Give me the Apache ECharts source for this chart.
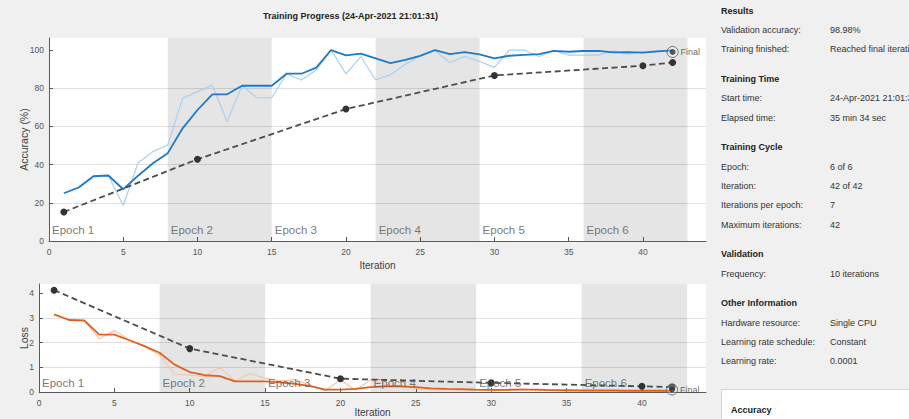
<!DOCTYPE html>
<html>
<head>
<meta charset="utf-8">
<script src="https://cdn.jsdelivr.net/npm/echarts@6/dist/echarts.min.js"></script>
<style>
html,body{margin:0;padding:0;background:#f0f0f0;}
#chart{width:909px;height:419px;}
</style>
</head>
<body>
<div id="chart"></div>
<script>
// iterations 1..42
let iterations=[1,2,3,4,5,6,7,8,9,10,11,12,13,14,15,16,17,18,19,20,21,22,23,24,25,26,27,28,29,30,31,32,33,34,35,36,37,38,39,40,41,42];
let accRaw=[25.0,28.1,34.0,34.3,18.6,41.0,46.8,50.3,74.7,78.2,81.6,62.5,81.3,75.0,75.0,87.5,84.3,89.5,100,87.5,96.6,84.3,87.1,92.6,96.9,99.6,93.5,96.6,94.0,90.9,100,100,96.6,99.6,97.3,97.3,97.3,99.6,97.9,99.0,99.6,99.8];
let accSmooth=[25.0,28.0,33.9,34.3,27.1,34.2,40.7,46.0,59.0,68.6,76.8,76.8,81.3,81.3,81.3,87.6,87.6,90.8,100,97.2,98.1,95.6,93.2,94.8,96.9,100,97.9,98.9,97.7,95.6,97.0,97.5,97.9,99.6,99.1,99.5,99.6,98.8,98.9,98.6,99.3,99.8];
let lossRaw=[3.15,2.91,2.90,2.15,2.50,2.10,1.85,1.50,0.72,0.68,0.62,1.00,0.45,0.75,0.55,0.45,0.50,0.28,0.05,0.50,0.07,0.50,0.30,0.22,0.15,0.10,0.10,0.08,0.06,0.05,0.08,0.12,0.08,0.05,0.04,0.04,0.05,0.04,0.03,0.04,0.03,0.03];
let lossSmooth=[3.15,2.92,2.90,2.33,2.33,2.10,1.86,1.59,1.11,0.81,0.68,0.64,0.43,0.43,0.43,0.39,0.33,0.24,0.10,0.10,0.13,0.20,0.23,0.23,0.20,0.15,0.13,0.12,0.10,0.09,0.09,0.10,0.10,0.08,0.07,0.06,0.06,0.06,0.05,0.05,0.05,0.05];
// validation
let valIter=[1,10,20,30,40,42];
let valAcc=[15.2,42.8,69.1,86.7,91.8,93.5];
let valLoss=[4.13,1.76,0.54,0.37,0.23,0.20];
let finalIter=42;
let finalAcc=98.98;
let finalLoss=0.10;
// epochs
let epochNames=["Epoch 1","Epoch 2","Epoch 3","Epoch 4","Epoch 5","Epoch 6"];
let epochStarts=[0,8,15,22,29,36];
let shadedEpochs=[[8,15],[22,29],[36,43]];
// ticks
let iterTicks=[0,5,10,15,20,25,30,35,40];
let accTicks=[0,20,40,60,80,100];
let lossTicks=[0,1,2,3,4];

let title="Training Progress (24-Apr-2021 21:01:31)";
let panel=[
	{head:"Results",rows:[["Validation accuracy:","98.98%"],["Training finished:","Reached final iteration"]]},
	{head:"Training Time",rows:[["Start time:","24-Apr-2021 21:01:31"],["Elapsed time:","35 min 34 sec"]]},
	{head:"Training Cycle",rows:[["Epoch:","6 of 6"],["Iteration:","42 of 42"],["Iterations per epoch:","7"],["Maximum iterations:","42"]]},
	{head:"Validation",rows:[["Frequency:","10 iterations"]]},
	{head:"Other Information",rows:[["Hardware resource:","Single CPU"],["Learning rate schedule:","Constant"],["Learning rate:","0.0001"]]}
];

let FONT="Liberation Sans, Arial, sans-serif";
let chart=echarts.init(document.getElementById("chart"),null,{renderer:"svg"});

function pairs(xs,ys){
	return xs.map(function(x,i){return [x,ys[i]];});
}

function xAxisOf(gi,gap){
	return {
		type:"value",gridIndex:gi,min:0,max:44.25,interval:5,
		name:"Iteration",nameLocation:"middle",nameGap:gap,
		nameTextStyle:{fontFamily:FONT,fontSize:10,color:"#404040"},
		axisLine:{onZero:false,lineStyle:{color:"#5a5a5a",width:1}},
		axisTick:{inside:true,length:4,customValues:iterTicks,lineStyle:{color:"#5a5a5a"}},
		axisLabel:{customValues:iterTicks,fontFamily:FONT,fontSize:8.5,color:"#555",margin:6},
		splitLine:{show:false}
	};
}
function yAxisOf(gi,name,max,step,ticks,gap){
	return {
		type:"value",gridIndex:gi,min:0,max:max,interval:step,
		name:name,nameLocation:"middle",nameGap:gap,nameMoveOverlap:false,
		nameTextStyle:{fontFamily:FONT,fontSize:10.5,color:"#404040"},
		axisLine:{show:true,lineStyle:{color:"#5a5a5a",width:1}},
		axisTick:{show:true,inside:true,length:4,customValues:ticks,lineStyle:{color:"#5a5a5a"}},
		axisLabel:{customValues:ticks,fontFamily:FONT,fontSize:8.5,color:"#555",margin:5},
		splitLine:{show:true,showMaxLine:false,lineStyle:{color:"#e0e0e0",width:1}}
	};
}

function bandSeries(gi){
	return {
		type:"line",xAxisIndex:gi,yAxisIndex:gi,data:[],silent:true,z:1,
		markArea:{silent:true,itemStyle:{color:"rgba(0,0,0,0.1)"},
			data:shadedEpochs.map(function(b){return [{xAxis:b[0]},{xAxis:b[1]}];})}
	};
}
function lineSeries(gi,ys,color,width){
	return {
		type:"line",xAxisIndex:gi,yAxisIndex:gi,data:pairs(iterations,ys),
		symbol:"none",silent:true,z:3,
		lineStyle:{color:color,width:width}
	};
}
function valSeries(gi,ys){
	return {
		type:"line",xAxisIndex:gi,yAxisIndex:gi,data:pairs(valIter,ys),
		symbol:"circle",symbolSize:7,silent:true,z:4,
		itemStyle:{color:"#333"},
		lineStyle:{color:"#4d4d4d",width:1.8,type:[6,3.5]}
	};
}
function finalSeries(gi,v){
	return [{
		type:"scatter",xAxisIndex:gi,yAxisIndex:gi,data:[[finalIter,v]],
		symbolSize:11,silent:true,z:5,
		itemStyle:{color:"rgba(255,255,255,0.3)",borderColor:"#555",borderWidth:1},
		label:{show:true,position:"right",distance:2,formatter:"Final",fontFamily:FONT,fontSize:9,color:"#444"}
	},{
		type:"scatter",xAxisIndex:gi,yAxisIndex:gi,data:[[finalIter,v]],
		symbolSize:6,silent:true,z:6,itemStyle:{color:"#333"}
	}];
}
function epochLabelSeries(gi,yv){
	return {
		type:"scatter",xAxisIndex:gi,yAxisIndex:gi,symbolSize:0,silent:true,z:7,
		data:epochStarts.map(function(x){return [x,yv];}),
		label:{show:true,position:"right",distance:3,
			formatter:function(p){return epochNames[p.dataIndex];},
			fontFamily:FONT,fontSize:11.5,color:"#555"}
	};
}

// right hand info panel
function panelGraphics(){
	let g=[];
	let y=12;
	panel.forEach(function(sec,si){
		if(si>0){y+=29.8;}
		g.push({type:"text",left:721,top:y-6,style:{text:sec.head,font:"bold 9px "+FONT,fill:"#222"}});
		sec.rows.forEach(function(r){
			y+=19.3;
			g.push({type:"text",left:721,top:y-6,style:{text:r[0],font:"9px "+FONT,fill:"#333"}});
			g.push({type:"text",left:830,top:y-6,style:{text:r[1],font:"9px "+FONT,fill:"#333"}});
		});
	});
	g.push({type:"rect",left:721,top:389,shape:{width:200,height:40},style:{fill:"#fff",stroke:"#d4d4d4",lineWidth:1}});
	g.push({type:"text",left:731,top:405,style:{text:"Accuracy",font:"bold 9px "+FONT,fill:"#222"}});
	g.push({type:"text",left:263,top:11,style:{text:title,font:"bold 9px "+FONT,fill:"#222"}});
	return g;
}

let option={
	backgroundColor:"#f0f0f0",
	animation:false,
	grid:[
		{left:49,right:203,top:38,height:203,show:true,backgroundColor:"#fff",borderWidth:0},
		{left:39,right:203,top:284,height:108,show:true,backgroundColor:"#fff",borderWidth:0}
	],
	xAxis:[xAxisOf(0,19),xAxisOf(1,15)],
	yAxis:[
		yAxisOf(0,"Accuracy (%)",106.3,20,accTicks,20),
		yAxisOf(1,"Loss",4.38,1,lossTicks,10)
	],
	graphic:panelGraphics(),
	series:[].concat(
		[bandSeries(0),
		lineSeries(0,accRaw,"#a8d0f0",1.2),
		lineSeries(0,accSmooth,"#1f7ac8",1.8),
		valSeries(0,valAcc)],
		finalSeries(0,finalAcc),
		[epochLabelSeries(0,5.8),
		bandSeries(1),
		lineSeries(1,lossRaw,"#f7c4aa",1.2),
		lineSeries(1,lossSmooth,"#e0601e",1.8),
		valSeries(1,valLoss)],
		finalSeries(1,finalLoss),
		[epochLabelSeries(1,0.35)]
	)
};
chart.setOption(option);
</script>
</body>
</html>
